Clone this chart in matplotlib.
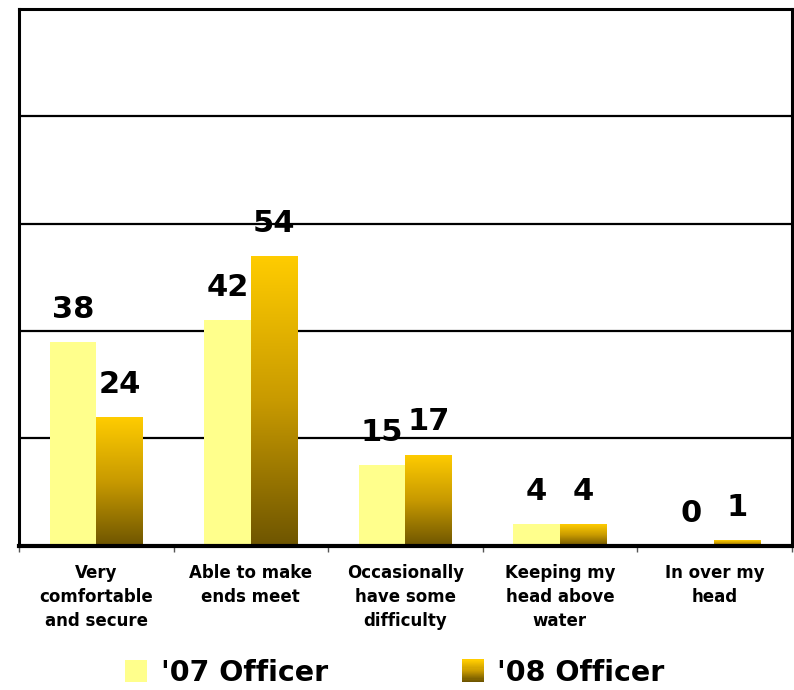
import numpy as np
import matplotlib
matplotlib.use("Agg")
import matplotlib.pyplot as plt
from matplotlib.colors import LinearSegmentedColormap
from matplotlib.legend_handler import HandlerBase
from matplotlib.patches import Rectangle

categories = ["Very\ncomfortable\nand secure", "Able to make\nends meet",
              "Occasionally\nhave some\ndifficulty", "Keeping my\nhead above\nwater",
              "In over my\nhead"]
officer_07 = [38, 42, 15, 4, 0]
officer_08 = [24, 54, 17, 4, 1]
series_labels = ["'07 Officer", "'08 Officer"]

light = "#FFFF8C"
gold_cmap = LinearSegmentedColormap.from_list("gold", ["#6E5500", "#C89A00", "#FFCC00"])

fig = plt.figure(figsize=(7.94, 6.90), dpi=100)
ax = fig.add_axes([0.024, 0.209, 0.973, 0.778])

x = np.arange(len(categories))
w = 0.3
b1 = ax.bar(x - w / 2, officer_07, w, color=light, zorder=3)
b2 = ax.bar(x + w / 2, officer_08, w, color="none", zorder=3)

# vertical gradient inside the '08 bars
grad = np.linspace(0, 1, 256).reshape(-1, 1)
for r in b2:
    x0, y0 = r.get_x(), r.get_y()
    h = r.get_height()
    if h <= 0:
        continue
    im = ax.imshow(grad, cmap=gold_cmap, origin="lower", aspect="auto",
                   extent=[x0, x0 + r.get_width(), y0, y0 + h], zorder=3)
    im.set_clip_path(r)

ax.set_xlim(-0.5, 4.5)
ax.set_ylim(0, 100)

for bars, vals in ((b1, officer_07), (b2, officer_08)):
    for r, v in zip(bars, vals):
        ax.annotate(str(v), (r.get_x() + r.get_width() / 2, v), xytext=(0, 13),
                    textcoords="offset points", ha="center", va="bottom",
                    fontsize=22, fontweight="bold", zorder=5)

ax.set_yticks([20, 40, 60, 80])
ax.yaxis.grid(True, color="black", linewidth=1.6, zorder=0)
ax.tick_params(axis="y", length=0, labelleft=False)

ax.set_xticks(np.arange(-0.5, 5, 1))
ax.set_xticklabels([])
ax.tick_params(axis="x", which="major", length=4, width=1, color="#555555")
ax.set_xticks(x, minor=True)
ax.set_xticklabels(categories, minor=True, fontsize=12, fontweight="bold",
                   linespacing=1.45)
ax.tick_params(axis="x", which="minor", length=0, pad=13)

for s in ax.spines.values():
    s.set_linewidth(2.2)
    s.set_color("black")
ax.spines["bottom"].set_linewidth(3)
ax.spines["bottom"].set_zorder(6)


class GradHandler(HandlerBase):
    def create_artists(self, legend, orig_handle, xdescent, ydescent,
                       width, height, fontsize, trans):
        side = height * 1.1
        x0 = xdescent + (width - side) / 2
        y0 = -ydescent - (side - height) / 2
        n = 20
        arts = []
        for i in range(n):
            arts.append(Rectangle((x0, y0 + side * i / n), side, side / n + 0.3,
                                  facecolor=gold_cmap(i / (n - 1)), edgecolor="none",
                                  transform=trans))
        return arts


class SquareHandler(HandlerBase):
    def create_artists(self, legend, orig_handle, xdescent, ydescent,
                       width, height, fontsize, trans):
        side = height * 1.1
        x0 = xdescent + (width - side) / 2
        y0 = -ydescent - (side - height) / 2
        return [Rectangle((x0, y0), side, side, facecolor=light, edgecolor="none",
                          transform=trans)]


h1 = Rectangle((0, 0), 1, 1)
h2 = Rectangle((0, 0), 1, 1)
fig.legend([h1, h2], series_labels, handler_map={h1: SquareHandler(), h2: GradHandler()},
           loc="center", bbox_to_anchor=(0.497, 0.025), ncol=2, frameon=False,
           prop={"size": 20.5, "weight": "bold"}, handlelength=0.8, handletextpad=0.45,
           columnspacing=4.7, borderpad=0.1)

fig.savefig("out.png", dpi=100)
